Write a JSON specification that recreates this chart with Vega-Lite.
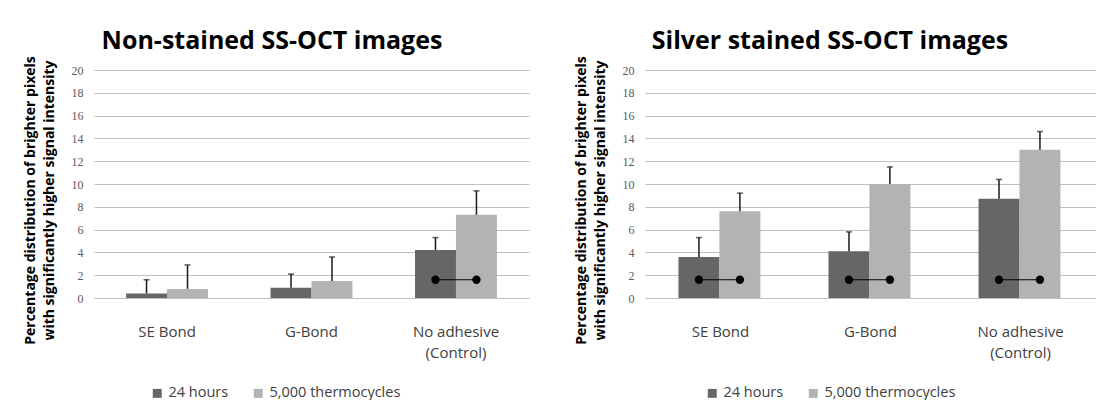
{
  "$schema": "https://vega.github.io/schema/vega-lite/v6.json",
  "background": "white",
  "padding": {"left": 22, "top": 28, "right": 0, "bottom": 0},
  "datasets": {
    "bars": [
      {"panel": "A", "group": "SE Bond", "series": "24 hours", "value": 0.4, "err": 1.6, "dot": false},
      {"panel": "A", "group": "SE Bond", "series": "5,000 thermocycles", "value": 0.8, "err": 2.9, "dot": false},
      {"panel": "A", "group": "G-Bond", "series": "24 hours", "value": 0.9, "err": 2.1, "dot": false},
      {"panel": "A", "group": "G-Bond", "series": "5,000 thermocycles", "value": 1.5, "err": 3.6, "dot": false},
      {"panel": "A", "group": "No adhesive (Control)", "series": "24 hours", "value": 4.2, "err": 5.3, "dot": true},
      {"panel": "A", "group": "No adhesive (Control)", "series": "5,000 thermocycles", "value": 7.3, "err": 9.4, "dot": true},
      {"panel": "B", "group": "SE Bond", "series": "24 hours", "value": 3.6, "err": 5.3, "dot": true},
      {"panel": "B", "group": "SE Bond", "series": "5,000 thermocycles", "value": 7.6, "err": 9.2, "dot": true},
      {"panel": "B", "group": "G-Bond", "series": "24 hours", "value": 4.1, "err": 5.8, "dot": true},
      {"panel": "B", "group": "G-Bond", "series": "5,000 thermocycles", "value": 10.0, "err": 11.5, "dot": true},
      {"panel": "B", "group": "No adhesive (Control)", "series": "24 hours", "value": 8.7, "err": 10.4, "dot": true},
      {"panel": "B", "group": "No adhesive (Control)", "series": "5,000 thermocycles", "value": 13.0, "err": 14.6, "dot": true}
    ]
  },
  "data": {"name": "bars"},
  "bounds": "flush",
  "spacing": 116,
  "config": {
    "view": {"stroke": null},
    "font": "Open Sans",
    "title": {"font": "Open Sans", "fontSize": 25, "fontWeight": "bold", "color": "#000000", "frame": "group", "anchor": "middle", "offset": 2},
    "axisY": {
      "grid": true, "gridColor": "#c0c0c0", "gridWidth": 1, "domain": false, "ticks": false, "tickCount": 20,
      "labelOverlap": false,
      "labelFont": "Liberation Serif", "labelFontSize": 12, "labelColor": "#595959", "labelPadding": 11,
      "titleFont": "Open Sans", "titleFontSize": 14, "titleFontWeight": "bold", "titleColor": "#000000",
      "titleAngle": -90, "titleX": -57, "titleY": 130, "titleAlign": "center", "titleLineHeight": 19
    },
    "axisX": {
      "domain": false, "ticks": false, "grid": false, "labelAngle": 0,
      "labelFont": "Open Sans", "labelFontSize": 15, "labelColor": "#404040", "labelPadding": 26, "labelLineHeight": 21
    },
    "legend": {
      "orient": "none", "direction": "horizontal", "title": null,
      "symbolType": "square", "symbolSize": 80, "symbolStrokeWidth": 0,
      "labelFont": "Open Sans", "labelFontSize": 14.5, "labelColor": "#404040", "columnPadding": 22
    }
  },
  "hconcat": [
    {
      "width": 435, "height": 228,
      "title": {"text": "Non-stained SS-OCT images", "dx": -39.5},
      "transform": [{"filter": "datum.panel == 'A'"}],
      "encoding": {
        "x": {"field": "group", "type": "nominal", "sort": ["SE Bond", "G-Bond", "No adhesive (Control)"], "title": null,
              "scale": {"paddingInner": 0.433, "paddingOuter": 0.222},
              "axis": {"labelExpr": "datum.value == 'No adhesive (Control)' ? ['No adhesive', '(Control)'] : datum.value"}},
        "xOffset": {"field": "series", "type": "nominal", "sort": ["24 hours", "5,000 thermocycles"], "scale": {"paddingInner": 0, "paddingOuter": 0}}
      },
      "layer": [
        {"mark": {"type": "bar"},
         "encoding": {
           "y": {"field": "value", "type": "quantitative", "scale": {"domain": [0, 20], "nice": false},
                 "axis": {"values": [0, 2, 4, 6, 8, 10, 12, 14, 16, 18, 20], "tickCount": 20},
                 "title": ["Percentage distribution of brighter pixels", "with significantly higher signal intensity"]},
           "color": {"field": "series", "type": "nominal", "sort": ["24 hours", "5,000 thermocycles"],
                     "scale": {"range": ["#666666", "#b3b3b3"]},
                     "legend": {"legendX": 56, "legendY": 316}}
         }},
        {"mark": {"type": "rule", "color": "#1a1a1a", "strokeWidth": 1.5},
         "encoding": {"y": {"field": "value", "type": "quantitative"}, "y2": {"field": "err"}}},
        {"mark": {"type": "tick", "color": "#1a1a1a", "size": 6, "thickness": 1.5},
         "encoding": {"y": {"field": "err", "type": "quantitative"}}},
        {"transform": [{"filter": "datum.dot"}],
         "mark": {"type": "line", "color": "#000000", "strokeWidth": 1},
         "encoding": {"y": {"datum": 1.6, "type": "quantitative"}, "detail": {"field": "group"}}},
        {"transform": [{"filter": "datum.dot"}],
         "mark": {"type": "point", "filled": true, "color": "#000000", "opacity": 1, "size": 70},
         "encoding": {"y": {"datum": 1.6, "type": "quantitative"}}}
      ]
    },
    {
      "width": 451, "height": 228,
      "title": {"text": "Silver stained SS-OCT images", "dx": -40.5},
      "transform": [{"filter": "datum.panel == 'B'"}],
      "encoding": {
        "x": {"field": "group", "type": "nominal", "sort": ["SE Bond", "G-Bond", "No adhesive (Control)"], "title": null,
              "scale": {"paddingInner": 0.44, "paddingOuter": 0.223},
              "axis": {"labelExpr": "datum.value == 'No adhesive (Control)' ? ['No adhesive', '(Control)'] : datum.value"}},
        "xOffset": {"field": "series", "type": "nominal", "sort": ["24 hours", "5,000 thermocycles"], "scale": {"paddingInner": 0, "paddingOuter": 0}}
      },
      "layer": [
        {"mark": {"type": "bar"},
         "encoding": {
           "y": {"field": "value", "type": "quantitative", "scale": {"domain": [0, 20], "nice": false},
                 "axis": {"values": [0, 2, 4, 6, 8, 10, 12, 14, 16, 18, 20], "tickCount": 20},
                 "title": ["Percentage distribution of brighter pixels", "with significantly higher signal intensity"]},
           "color": {"field": "series", "type": "nominal", "sort": ["24 hours", "5,000 thermocycles"],
                     "scale": {"range": ["#666666", "#b3b3b3"]},
                     "legend": {"legendX": 60, "legendY": 316}}
         }},
        {"mark": {"type": "rule", "color": "#1a1a1a", "strokeWidth": 1.5},
         "encoding": {"y": {"field": "value", "type": "quantitative"}, "y2": {"field": "err"}}},
        {"mark": {"type": "tick", "color": "#1a1a1a", "size": 6, "thickness": 1.5},
         "encoding": {"y": {"field": "err", "type": "quantitative"}}},
        {"transform": [{"filter": "datum.dot"}],
         "mark": {"type": "line", "color": "#000000", "strokeWidth": 1},
         "encoding": {"y": {"datum": 1.6, "type": "quantitative"}, "detail": {"field": "group"}}},
        {"transform": [{"filter": "datum.dot"}],
         "mark": {"type": "point", "filled": true, "color": "#000000", "opacity": 1, "size": 70},
         "encoding": {"y": {"datum": 1.6, "type": "quantitative"}}}
      ]
    }
  ],
  "resolve": {"scale": {"color": "independent"}, "legend": {"color": "independent"}}
}
